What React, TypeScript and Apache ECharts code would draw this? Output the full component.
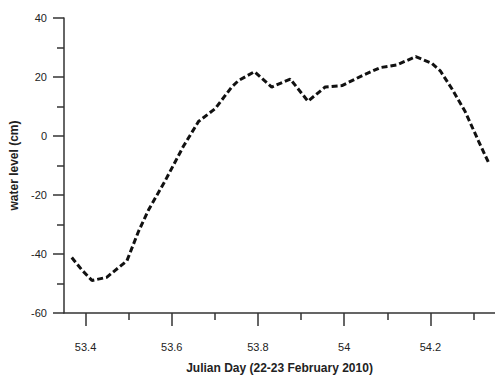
import React, { useEffect, useRef } from "react";
import * as echarts from "echarts";

const julianDay = [
  53.368, 53.392, 53.415, 53.449, 53.496, 53.523, 53.546, 53.585, 53.627, 53.662,
  53.701, 53.739, 53.755, 53.792, 53.832, 53.875, 53.916, 53.956, 53.995, 54.041,
  54.084, 54.122, 54.166, 54.203, 54.223, 54.25, 54.281, 54.312, 54.335,
];
const waterLevel = [
  -41.2, -45.5, -49, -47.9, -42.3, -32.3, -25.1, -15.1, -3.5, 4.9,
  9.3, 16.6, 18.8, 21.8, 16.6, 19.3, 11.8, 16.6, 17.1, 20.4,
  23.2, 24.1, 26.9, 24.7, 22.1, 16, 8.2, -1.8, -9,
];
const xMajorTicks = [53.4, 53.6, 53.8, 54.0, 54.2];
const xMinorTicks = [53.5, 53.7, 53.9, 54.1, 54.3];
const yMin = -60;
const yMax = 40;

const FONT = "Liberation Sans, Arial, sans-serif";
const AXIS_COLOR = "#333";

export default function App() {
  const ref = useRef<HTMLDivElement>(null);
  useEffect(() => {
    if (!ref.current) return;
    const chart = echarts.init(ref.current, undefined, { renderer: "svg" });
    const axisLine = { show: true, onZero: false, lineStyle: { color: AXIS_COLOR, width: 1.5 } };
    chart.setOption({
      animation: false,
      backgroundColor: "#fff",
      grid: { left: 64, top: 18, right: 0, bottom: 61, containLabel: false },
      xAxis: [
        {
          type: "value",
          min: 53.35,
          max: 54.35,
          position: "bottom",
          axisLine,
          splitLine: { show: false },
          axisTick: {
            show: true,
            customValues: xMajorTicks,
            length: 13,
            lineStyle: { color: AXIS_COLOR, width: 1.5 },
          },
          axisLabel: {
            customValues: xMajorTicks,
            formatter: (v: number) => String(Math.round(v * 10) / 10),
            margin: 28,
            fontFamily: FONT,
            fontSize: 11,
            color: "#222",
          },
          name: "Julian Day (22-23 February 2010)",
          nameLocation: "middle",
          nameGap: 49,
          nameTextStyle: { fontFamily: FONT, fontSize: 12, fontWeight: "bold", color: "#222" },
        },
        {
          type: "value",
          min: 53.35,
          max: 54.35,
          position: "bottom",
          offset: 0,
          axisLine: { show: false, onZero: false },
          splitLine: { show: false },
          axisTick: {
            show: true,
            customValues: xMinorTicks,
            length: 7,
            lineStyle: { color: AXIS_COLOR, width: 1.5 },
          },
          axisLabel: { show: false },
        },
      ],
      yAxis: {
        type: "value",
        min: yMin,
        max: yMax,
        interval: 20,
        axisLine,
        splitLine: { show: false },
        axisTick: { show: true, length: 11, lineStyle: { color: AXIS_COLOR, width: 1.5 } },
        minorTick: { show: true, splitNumber: 2, length: 7, lineStyle: { color: AXIS_COLOR, width: 1.5 } },
        axisLabel: { margin: 17, fontFamily: FONT, fontSize: 11, color: "#222" },
        name: "water level (cm)",
        nameLocation: "middle",
        nameGap: 42,
        nameTextStyle: { fontFamily: FONT, fontSize: 12, fontWeight: "bold", color: "#222" },
      },
      series: [
        {
          type: "line",
          data: julianDay.map((d, i) => [d, waterLevel[i]]),
          showSymbol: false,
          lineStyle: { color: "#111", width: 3, type: [6, 3] },
        },
      ],
    });
    return () => chart.dispose();
  }, []);
  return (
    <div
      ref={ref}
      style={{ position: "fixed", left: 0, top: 0, width: 495, height: 379 }}
    />
  );
}
